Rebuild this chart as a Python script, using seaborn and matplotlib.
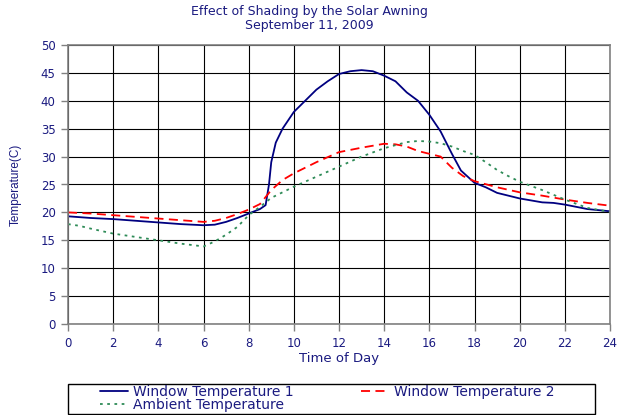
import matplotlib
matplotlib.use("Agg")
import matplotlib.pyplot as plt
from matplotlib.patches import Rectangle
import seaborn as sns

# --- Data ---
TIME_W1 = [0, 1, 2, 3, 4, 5, 6, 6.5, 7, 7.5, 8, 8.5, 8.75, 8.9, 9.0, 9.2, 9.5,
           10, 10.5, 11, 11.5, 12, 12.5, 13, 13.5, 14, 14.5, 15, 15.5, 16, 16.5,
           17, 17.4, 18, 18.5, 19, 19.5, 20, 21, 21.5, 22, 23, 24]
WINDOW_1 = [19.3, 19.0, 18.8, 18.5, 18.2, 17.9, 17.7, 17.8, 18.3, 19.0, 19.8, 20.6,
            21.3, 25.0, 29.0, 32.5, 35.0, 38.0, 40.0, 42.0, 43.5, 44.8, 45.3, 45.5,
            45.3, 44.5, 43.5, 41.5, 40.0, 37.5, 34.5, 30.5, 27.5, 25.3, 24.5, 23.5,
            23.0, 22.5, 21.8, 21.7, 21.4, 20.6, 20.2]

TIME_W2 = [0, 1, 2, 3, 4, 5, 6, 6.5, 7, 7.5, 8, 8.5, 9, 9.5, 10, 11, 12, 13, 14,
           14.5, 15, 15.5, 16, 16.5, 17, 17.5, 18, 19, 20, 21, 22, 23, 24]
WINDOW_2 = [20.0, 19.8, 19.5, 19.2, 18.9, 18.6, 18.3, 18.5, 19.0, 19.7, 20.5, 21.5,
            24.0, 25.8, 27.0, 29.0, 30.8, 31.6, 32.3, 32.2, 31.8, 31.0, 30.5, 30.0,
            28.0, 26.5, 25.6, 24.5, 23.6, 23.0, 22.3, 21.7, 21.2]

TIME_AMB = [0, 0.5, 1, 2, 3, 4, 5, 6, 6.5, 7, 7.5, 8, 8.5, 9, 10, 11, 12, 13, 14,
            15, 15.5, 16, 16.5, 17, 17.5, 18, 18.5, 19, 19.5, 20, 21, 22, 23, 24]
AMBIENT = [17.9, 17.6, 17.1, 16.2, 15.6, 15.0, 14.4, 13.9, 14.8, 16.0, 17.4, 19.5,
           21.0, 22.6, 24.6, 26.4, 28.2, 30.0, 31.5, 32.6, 32.8, 32.7, 32.4, 31.8,
           31.0, 30.3, 29.0, 27.6, 26.5, 25.5, 24.0, 22.3, 20.8, 20.1]

X_TICKS = list(range(0, 25, 2))
Y_TICKS = list(range(0, 51, 5))

TEXT_COLOR = "#1a1a80"
W, H = 618, 415

sns.set_style("white")
plt.rcParams["font.family"] = ["DejaVu Sans"]

fig = plt.figure(figsize=(W / 100, H / 100), dpi=100)
ax = fig.add_axes([68 / W, 1 - 324 / H, 542 / W, 279 / H])

sns.lineplot(x=TIME_W1, y=WINDOW_1, ax=ax, color="#000080", linewidth=1.3,
             label="Window Temperature 1")
sns.lineplot(x=TIME_W2, y=WINDOW_2, ax=ax, color="#ff0000", linewidth=1.3,
             linestyle=(0, (5, 3)), label="Window Temperature 2")
sns.lineplot(x=TIME_AMB, y=AMBIENT, ax=ax, color="#2e8b57", linewidth=1.3,
             linestyle=(0, (1.5, 2.5)), label="Ambient Temperature")

ax.set_xlim(0, 24)
ax.set_ylim(0, 50)
ax.set_xticks(X_TICKS)
ax.set_yticks(Y_TICKS)
ax.grid(True, color="black", linewidth=0.8)
ax.set_axisbelow(True)
for sp in ax.spines.values():
    sp.set_color("#808080")
    sp.set_linewidth(1.2)
ax.tick_params(axis="both", direction="out", length=5, width=1, color="#808080",
               labelcolor=TEXT_COLOR, labelsize=8.5, pad=4)
ax.tick_params(left=True, bottom=True)

ax.set_xlabel("Time of Day", color=TEXT_COLOR, fontsize=9.5)
ax.xaxis.set_label_coords(0.5, -(358 - 324) / 279)
ax.xaxis.label.set_va("center")
ax.set_ylabel("Temperature(C)", color=TEXT_COLOR, fontsize=8.5,
              family="Liberation Sans")
ax.yaxis.set_label_coords(-(68 - 16) / 542, 0.5)
ax.yaxis.label.set_va("center")

fig.text(0.5, 1 - 12 / H, "Effect of Shading by the Solar Awning",
         ha="center", va="center", color=TEXT_COLOR, fontsize=9)
fig.text(0.5, 1 - 26 / H, "September 11, 2009",
         ha="center", va="center", color=TEXT_COLOR, fontsize=9)

# legend box drawn separately, entries in two columns
fig.patches.append(Rectangle((68 / W, 1 - 414 / H), (595 - 68) / W, 30 / H,
                             transform=fig.transFigure, fill=False,
                             edgecolor="black", linewidth=1.0))
handles, labels = ax.get_legend_handles_labels()
order = [0, 2, 1]
leg = fig.legend([handles[i] for i in order], [labels[i] for i in order],
                 loc="upper left", bbox_to_anchor=(100 / W, 1 - 385 / H),
                 ncol=2, frameon=False, fontsize=10, handlelength=2.0,
                 handletextpad=0.35, columnspacing=4.9, borderpad=0,
                 labelspacing=-0.05, borderaxespad=0)
for t in leg.get_texts():
    t.set_color(TEXT_COLOR)
ax.get_legend().remove()

fig.savefig("out.png", dpi=100)
